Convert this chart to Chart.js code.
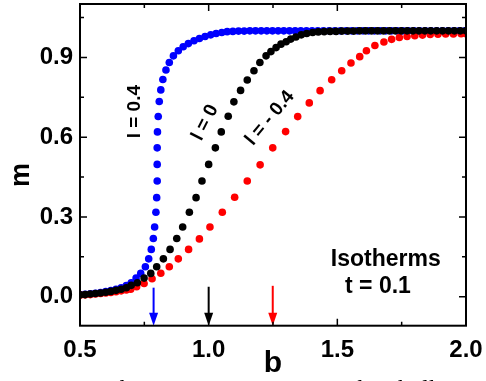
<!DOCTYPE html>
<html>
<head>
<meta charset="utf-8">
<script src="https://cdn.jsdelivr.net/npm/chart.js@4.4.0/dist/chart.umd.min.js"></script>
<style>
html, body { margin: 0; padding: 0; background: #fff; }
#wrap { width: 486px; height: 381px; position: relative; }
</style>
</head>
<body>
<div id="wrap"><canvas id="chart" width="486" height="381"></canvas></div>
<script>
// 数据：b 为横轴，m 为纵轴
const blueB = [0.50, 0.52, 0.54, 0.56, 0.58, 0.60, 0.62, 0.64, 0.66, 0.68,
    0.699, 0.718, 0.736, 0.754, 0.767, 0.777, 0.785, 0.790, 0.795, 0.798,
    0.800, 0.800, 0.800, 0.801, 0.804, 0.808, 0.814, 0.822, 0.834, 0.847,
    0.863, 0.882, 0.901, 0.921, 0.943, 0.964, 0.986, 1.008, 1.029, 1.051,
    1.072, 1.094, 1.116, 1.138, 1.160, 1.182, 1.204, 1.226, 1.248, 1.270,
    1.292, 1.314, 1.336, 1.358, 1.380, 1.402, 1.424, 1.446, 1.468, 1.490,
    1.512, 1.534, 1.556, 1.578, 1.600, 1.622, 1.644, 1.666, 1.688, 1.710,
    1.732, 1.754, 1.776, 1.798, 1.820, 1.842, 1.864, 1.886, 1.908, 1.930,
    1.952, 1.974, 1.996];
const blueM = [0.008, 0.009, 0.011, 0.013, 0.016, 0.019, 0.023, 0.028, 0.034, 0.042,
    0.0525, 0.070, 0.0877, 0.1125, 0.1425, 0.178, 0.219, 0.2625, 0.3176, 0.3727,
    0.435, 0.4976, 0.560, 0.620, 0.678, 0.734, 0.778, 0.817, 0.853, 0.881,
    0.906, 0.925, 0.940, 0.952, 0.9625, 0.971, 0.979, 0.985, 0.990, 0.994,
    0.997, 0.998, 0.999, 0.999, 1.0, 1.0, 1.0, 1.0, 1.0, 1.0,
    1.0, 1.0, 1.0, 1.0, 1.0, 1.0, 1.0, 1.0, 1.0, 1.0,
    1.0, 1.0, 1.0, 1.0, 1.0, 1.0, 1.0, 1.0, 1.0, 1.0,
    1.0, 1.0, 1.0, 1.0, 1.0, 1.0, 1.0, 1.0, 1.0, 1.0,
    1.0, 1.0, 1.0];

const blackB = [0.50, 0.52, 0.54, 0.56, 0.58, 0.60, 0.62, 0.64, 0.66, 0.68,
    0.699, 0.723, 0.749, 0.775, 0.798, 0.824, 0.850, 0.876, 0.899, 0.925,
    0.951, 0.974, 1.000, 1.026, 1.049, 1.076, 1.098, 1.124, 1.150, 1.176,
    1.199, 1.223, 1.242, 1.262, 1.281, 1.301, 1.319, 1.339, 1.360, 1.381,
    1.404, 1.426, 1.449, 1.472, 1.495, 1.518, 1.541, 1.564, 1.587, 1.610,
    1.633, 1.656, 1.679, 1.702, 1.725, 1.748, 1.771, 1.794, 1.817, 1.840,
    1.863, 1.886, 1.909, 1.932, 1.955, 1.978, 2.0];
const blackM = [0.007, 0.008, 0.010, 0.012, 0.014, 0.017, 0.020, 0.024, 0.028, 0.034,
    0.0427, 0.0525, 0.070, 0.0877, 0.1125, 0.1425, 0.178, 0.219, 0.2625, 0.3176,
    0.3727, 0.435, 0.4976, 0.560, 0.620, 0.679, 0.733, 0.776, 0.815, 0.850,
    0.881, 0.906, 0.922, 0.937, 0.950, 0.959, 0.969, 0.977, 0.985, 0.990,
    0.994, 0.996, 0.997, 0.998, 0.998, 0.999, 0.999, 0.999, 1.0, 1.0,
    1.0, 1.0, 1.0, 1.0, 1.0, 1.0, 1.0, 1.0, 1.0, 1.0,
    1.0, 1.0, 1.0, 1.0, 1.0, 1.0, 1.0];

const redB = [0.50, 0.52, 0.54, 0.56, 0.58, 0.60, 0.62, 0.64, 0.66, 0.68,
    0.697, 0.720, 0.749, 0.780, 0.814, 0.847, 0.882, 0.922, 0.964, 1.005,
    1.053, 1.101, 1.150, 1.200, 1.249, 1.299, 1.346, 1.391, 1.433, 1.478,
    1.517, 1.553, 1.587, 1.613, 1.646, 1.681, 1.711, 1.741,
    1.771, 1.801, 1.831, 1.861, 1.891, 1.921, 1.951, 1.981, 2.0];
const redM = [0.006, 0.007, 0.008, 0.010, 0.012, 0.014, 0.016, 0.019, 0.022, 0.025,
    0.028, 0.0375, 0.050, 0.0675, 0.088, 0.1125, 0.1425, 0.178, 0.2175, 0.2625,
    0.3175, 0.374, 0.435, 0.496, 0.560, 0.621, 0.6775, 0.729, 0.775, 0.816,
    0.850, 0.879, 0.903, 0.925, 0.945, 0.958, 0.968, 0.975,
    0.979, 0.982, 0.984, 0.986, 0.987, 0.988, 0.988, 0.989, 0.989];

// 刻度
const xMajor = [0.5, 1.0, 1.5, 2.0];
const xMinor = [0.75, 1.25, 1.75];
const yMajor = [0.0, 0.3, 0.6, 0.9];
const yMinor = [0.15, 0.45, 0.75, 1.05];

// 箭头 (b 位置, 顶端 m)
const arrowB = [0.786, 1.0, 1.249];
const arrowTopM = [0.034, 0.0375, 0.041];
const arrowColors = ['#0000ff', '#000000', '#ff0000'];

// 曲线标注
const curveLabels = ['l = 0.4', 'l = 0', 'l = - 0.4'];
const curveLabelB = [0.714, 0.986, 1.238];
const curveLabelM = [0.696, 0.655, 0.672];
const curveLabelAngle = [-90, -63, -50];

const FONT = "'Liberation Sans', Arial, sans-serif";

function toPoints(bs, ms) {
    const n = Math.min(bs.length, ms.length);
    const pts = [];
    for (let i = 0; i < n; i++) pts.push({ x: bs[i], y: ms[i] });
    return pts;
}

// 去掉刻度标签带来的额外边距
function noScalePadding(scale) {
    scale.paddingTop = 0;
    scale.paddingBottom = 0;
    scale.paddingLeft = 0;
    scale.paddingRight = 0;
}

// 自定义绘制：边框、向内刻度、箭头、文字
const decorPlugin = {
    id: 'decor',
    afterDatasetsDraw(chart) {
        const ctx = chart.ctx;
        const a = chart.chartArea;
        const xs = chart.scales.x;
        const ys = chart.scales.y;
        ctx.save();

        // 箭头
        arrowB.forEach((b, i) => {
            const x = xs.getPixelForValue(b);
            const yTop = ys.getPixelForValue(arrowTopM[i]);
            const tip = a.bottom;
            const headLen = 13, headW = 4.5;
            ctx.strokeStyle = arrowColors[i];
            ctx.fillStyle = arrowColors[i];
            ctx.lineWidth = 2;
            ctx.beginPath();
            ctx.moveTo(x, yTop);
            ctx.lineTo(x, tip - headLen + 2);
            ctx.stroke();
            ctx.beginPath();
            ctx.moveTo(x - headW, tip - headLen);
            ctx.lineTo(x + headW, tip - headLen);
            ctx.lineTo(x, tip);
            ctx.closePath();
            ctx.fill();
        });

        // 边框
        ctx.strokeStyle = '#000';
        ctx.lineWidth = 2;
        ctx.strokeRect(a.left, a.top, a.right - a.left, a.bottom - a.top);

        // 刻度（朝内，四边）
        ctx.lineWidth = 1.5;
        ctx.beginPath();
        const xt = (list, len) => list.forEach(v => {
            const x = xs.getPixelForValue(v);
            ctx.moveTo(x, a.bottom); ctx.lineTo(x, a.bottom - len);
            ctx.moveTo(x, a.top); ctx.lineTo(x, a.top + len);
        });
        const yt = (list, len) => list.forEach(v => {
            const y = ys.getPixelForValue(v);
            ctx.moveTo(a.left, y); ctx.lineTo(a.left + len, y);
            ctx.moveTo(a.right, y); ctx.lineTo(a.right - len, y);
        });
        xt(xMajor, 7); xt(xMinor, 4);
        yt(yMajor, 7); yt(yMinor, 4);
        ctx.stroke();

        // 曲线标注
        ctx.fillStyle = '#000';
        ctx.textAlign = 'center';
        ctx.textBaseline = 'middle';
        ctx.font = 'bold 19px ' + FONT;
        curveLabels.forEach((t, i) => {
            ctx.save();
            ctx.translate(xs.getPixelForValue(curveLabelB[i]), ys.getPixelForValue(curveLabelM[i]));
            ctx.rotate(curveLabelAngle[i] * Math.PI / 180);
            ctx.fillText(t, 0, 0);
            ctx.restore();
        });

        ctx.font = 'bold 23px ' + FONT;
        ctx.fillText('Isotherms', xs.getPixelForValue(1.688), ys.getPixelForValue(0.141));
        ctx.fillText('t = 0.1', xs.getPixelForValue(1.658), ys.getPixelForValue(0.036));

        // 坐标轴标题
        ctx.font = 'bold 27px ' + FONT;
        ctx.save();
        ctx.translate(22, 175);
        ctx.rotate(-Math.PI / 2);
        ctx.fillText('m', 0, 0);
        ctx.restore();
        ctx.font = 'bold 30px ' + FONT;
        ctx.fillText('b', (a.left + a.right) / 2, 364);

        // 底部被截断的图注
        ctx.font = "24px 'Liberation Serif', serif";
        ctx.textAlign = 'left';
        ctx.textBaseline = 'alphabetic';
        ctx.fillText('FIG. 10.', -42, 396);
        ctx.fillText('The   magnetization   in   the   bulk   with', 105, 396);

        ctx.restore();
    }
};

new Chart(document.getElementById('chart').getContext('2d'), {
    type: 'scatter',
    data: {
        datasets: [{
            label: 'l = 0',
            data: toPoints(blackB, blackM),
            backgroundColor: '#000000',
            borderWidth: 0,
            pointRadius: 3.8
        }, {
            label: 'l = -0.4',
            data: toPoints(redB, redM),
            backgroundColor: '#ff0000',
            borderWidth: 0,
            pointRadius: 3.8
        }, {
            label: 'l = 0.4',
            data: toPoints(blueB, blueM),
            backgroundColor: '#0000ff',
            borderWidth: 0,
            pointRadius: 3.8
        }]
    },
    options: {
        responsive: false,
        animation: false,
        devicePixelRatio: 1,
        layout: { padding: { left: 0, right: 20, top: 3, bottom: 0 } },
        plugins: {
            legend: { display: false },
            tooltip: { enabled: false }
        },
        scales: {
            x: {
                type: 'linear',
                min: 0.5,
                max: 2.0,
                border: { display: false },
                grid: { display: false, drawTicks: false },
                afterBuildTicks: scale => { scale.ticks = xMajor.map(v => ({ value: v })); },
                afterFit: scale => { scale.height = 55.3; noScalePadding(scale); },
                ticks: {
                    color: '#000',
                    padding: 10,
                    maxRotation: 0,
                    font: { family: FONT, size: 24, weight: 'bold' },
                    callback: v => Number(v).toFixed(1)
                }
            },
            y: {
                type: 'linear',
                min: -0.109,
                max: 1.101,
                border: { display: false },
                grid: { display: false, drawTicks: false },
                afterBuildTicks: scale => { scale.ticks = yMajor.map(v => ({ value: v })); },
                afterFit: scale => { scale.width = 80; noScalePadding(scale); },
                ticks: {
                    color: '#000',
                    padding: 7,
                    font: { family: FONT, size: 24, weight: 'bold' },
                    callback: v => Number(v).toFixed(1)
                }
            }
        }
    },
    plugins: [decorPlugin]
});
</script>
</body>
</html>
